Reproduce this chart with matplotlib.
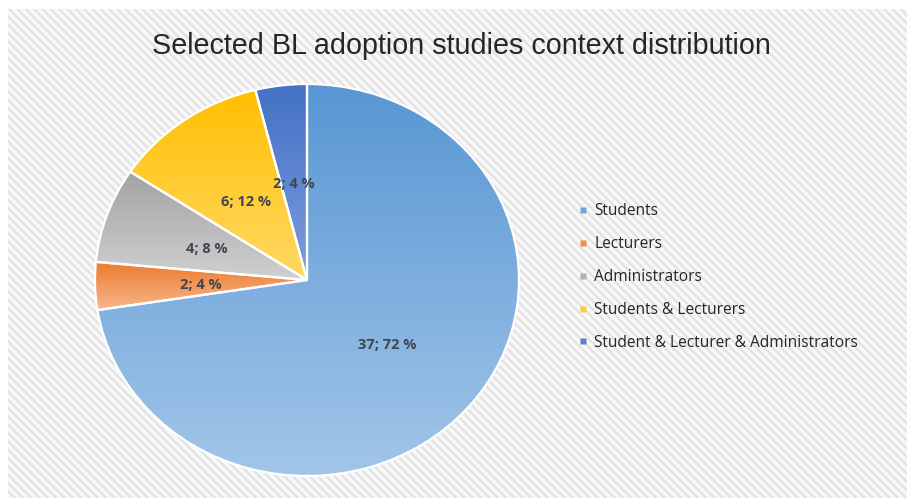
import matplotlib.pyplot as plt
import numpy as np
from matplotlib.colors import to_rgb
from matplotlib.lines import Line2D
from matplotlib.patches import Rectangle

categories = ['Students', 'Lecturers', 'Administrators',
              'Students & Lecturers', 'Student & Lecturer & Administrators']
counts = [37, 2, 4, 6, 2]
percents = [72, 4, 8, 12, 4]
# top colour -> bottom colour of each slice's vertical gradient
top_colors = ['#5896d3', '#ec7a2e', '#a3a3a3', '#ffbf00', '#4371c4']
bottom_colors = ['#a2c6e9', '#f8b68b', '#d0d0d0', '#ffd966', '#7f9ce0']
legend_colors = ['#6fa5da', '#f08e4a', '#b0b0b0', '#ffcb33', '#5a80cc']

plt.rcParams['hatch.linewidth'] = 1.6

fig = plt.figure(figsize=(9.07, 4.98), dpi=100)
fig.patch.set_facecolor('white')

# striped chart area
fig.patches.append(Rectangle((8 / 907, 0), 1, 1 - 9 / 498, transform=fig.transFigure,
                             facecolor='#f8f8f8', edgecolor='#e2e2e2', linewidth=0,
                             hatch='\\\\\\\\', zorder=-5))

fig.text(461 / 907, 1 - 46 / 498, 'Selected BL adoption studies context distribution',
         ha='center', va='center', fontsize=20.7, color='#262626',
         family=['Liberation Sans', 'DejaVu Sans'])

# pie is slightly wider than tall
ax = fig.add_axes([95 / 907, 1 - 476 / 498, 424 / 907, 392 / 498])
wedges, _ = ax.pie(counts, startangle=90, counterclock=False, radius=1,
                   wedgeprops=dict(edgecolor='white', linewidth=1.6))

for w, c_top, c_bot in zip(wedges, top_colors, bottom_colors):
    w.set_facecolor('none')
    w.set_zorder(3)
    ext = w.get_path().get_extents()
    t = np.linspace(0, 1, 200)[:, None]
    grad = (1 - t) * np.array(to_rgb(c_bot)) + t * np.array(to_rgb(c_top))
    im = ax.imshow(grad[:, None, :], extent=(ext.x0, ext.x1, ext.y0, ext.y1),
                   origin='lower', aspect='auto', zorder=2, interpolation='bilinear')
    im.set_clip_path(w)

for w, v, p in zip(wedges, counts, percents):
    ang = np.deg2rad((w.theta1 + w.theta2) / 2)
    r = 0.5
    ax.text(r * np.cos(ang), r * np.sin(ang), f'{v}; {p} %',
            ha='center', va='center_baseline', fontsize=10.5, fontweight='bold',
            color='#3f4650', zorder=5, family=['Open Sans', 'DejaVu Sans'])

ax.set_aspect('auto')
ax.set_xlim(-1, 1)
ax.set_ylim(-1, 1)
ax.axis('off')

handles = [Line2D([], [], marker='s', linestyle='none', markersize=4.5,
                  markerfacecolor=c, markeredgecolor='none')
           for c in legend_colors]
fig.legend(handles, categories, loc='center left', bbox_to_anchor=(578 / 907, 1 - 277 / 498),
           frameon=False, handlelength=0.6, handletextpad=0.45, labelspacing=1.09,
           borderpad=0, borderaxespad=0,
           prop=dict(family=['Open Sans', 'DejaVu Sans'], size=11.2), labelcolor='#262626')

fig.savefig('out.png', dpi=100)
